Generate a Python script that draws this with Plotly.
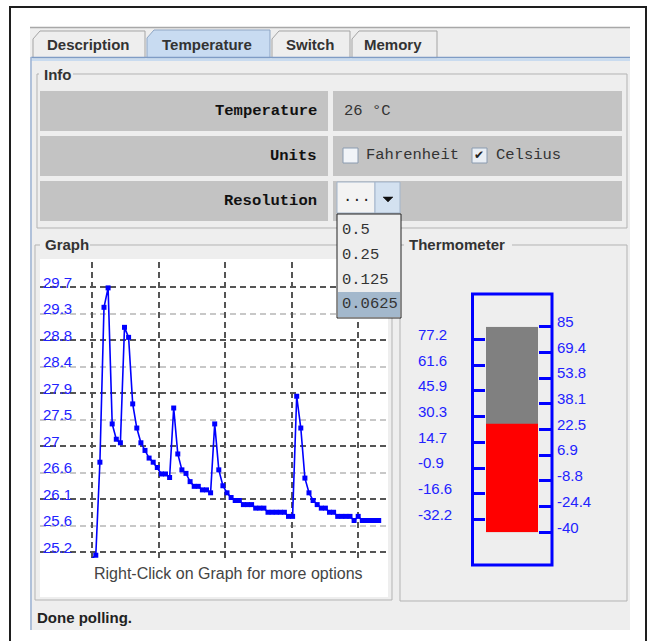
import plotly.graph_objects as go

W, H = 650, 641

# ---------------- data ----------------
sample_idx = list(range(71))
temps = [25.09, 25.15, 26.73, 29.36, 29.69, 27.38, 27.12, 27.06, 29.02, 28.85,
         27.72, 27.31, 27.06, 26.93, 26.80, 26.73, 26.64, 26.53, 26.53, 26.47,
         27.65, 26.87, 26.60, 26.54, 26.40, 26.32, 26.32, 26.26, 26.26, 26.21,
         27.38, 26.60, 26.33, 26.21, 26.13, 26.08, 26.08, 26.01, 26.01, 26.01,
         25.95, 25.95, 25.95, 25.88, 25.88, 25.88, 25.88, 25.88, 25.81, 25.81,
         27.85, 27.31, 26.46, 26.21, 26.08, 26.01, 25.95, 25.95, 25.88, 25.88,
         25.81, 25.81, 25.81, 25.81, 25.74, 25.81, 25.74, 25.74, 25.74, 25.74, 25.74]
graph_min = 25.2
graph_step = 0.45
graph_labels = ["25.2", "25.6", "26.1", "26.6", "27", "27.5", "27.9",
                "28.4", "28.8", "29.3", "29.7"]

therm_min, therm_max = -40, 85
current_temp = 26
therm_right_labels = ["-40", "-24.4", "-8.8", "6.9", "22.5", "38.1", "53.8", "69.4", "85"]
therm_left_labels = ["-32.2", "-16.6", "-0.9", "14.7", "30.3", "45.9", "61.6", "77.2"]

resolutions = ["0.5", "0.25", "0.125", "0.0625"]
tabs = ["Description", "Temperature", "Switch", "Memory"]

# ---------------- helpers ----------------
BLUE = "#0000ff"
LBLUE = "#2222ff"
BG = "#eeeeee"
SANS = "Liberation Sans"
MONO = "Liberation Mono"


def X(px):
    return px / W


def Y(py):
    return 1 - py / H


shapes = []
annotations = []


def rect(x0, y0, x1, y1, fill=None, line=None, lw=1, layer="below"):
    shapes.append(dict(type="rect", xref="paper", yref="paper",
                       x0=X(x0), x1=X(x1), y0=Y(y1), y1=Y(y0),
                       fillcolor=fill if fill else "rgba(0,0,0,0)",
                       line=dict(color=line if line else "rgba(0,0,0,0)",
                                 width=lw if line else 0),
                       layer=layer))


def hline(x0, x1, y, color, lw=1, layer="below"):
    shapes.append(dict(type="line", xref="paper", yref="paper",
                       x0=X(x0), x1=X(x1), y0=Y(y), y1=Y(y),
                       line=dict(color=color, width=lw), layer=layer))


def vline(x, y0, y1, color, lw=1, layer="below"):
    shapes.append(dict(type="line", xref="paper", yref="paper",
                       x0=X(x), x1=X(x), y0=Y(y0), y1=Y(y1),
                       line=dict(color=color, width=lw), layer=layer))


def path(pts, fill, line, lw=1, layer="below"):
    d = "M " + " L ".join(f"{X(a):.5f},{Y(b):.5f}" for a, b in pts) + " Z"
    shapes.append(dict(type="path", xref="paper", yref="paper", path=d,
                       fillcolor=fill, line=dict(color=line, width=lw), layer=layer))


def text(x, y, s, size=15, color="#333333", family=SANS, bold=False, xanchor="left"):
    annotations.append(dict(xref="paper", yref="paper", x=X(x), y=Y(y),
                            text=f"<b>{s}</b>" if bold else s, showarrow=False,
                            xanchor=xanchor, yanchor="middle",
                            font=dict(size=size, color=color, family=family)))


# ---------------- chrome ----------------
rect(10, 7, 646, 700, fill="white", line="#1e1e1e", lw=2)
rect(30, 27, 630, 630, fill=BG)
hline(30, 630, 27.5, "#a8a8a8", 1.5)

# tabs
tab_geo = [(33, 145, 31), (147, 270, 30), (272, 350, 31), (352, 437, 31)]
tab_text_x = [88, 206.5, 310, 393]
for i, (a, b, top) in enumerate(tab_geo):
    sel = tabs[i] == "Temperature"
    path([(a, 58), (a, top + 8), (a + 7, top), (b, top), (b, 58)],
         fill="#c8dbf1" if sel else BG, line="#8fa6c4" if sel else "#a4a4a4")
    text(tab_text_x[i], 44.5, tabs[i], 15, "#333333", SANS, True, "center")

hline(31, 630, 57.5, "#7f9cc5", 1.5)
rect(31, 58.3, 630, 61, fill="#c9dbef")
vline(31, 57, 630, "#9bb2d3", 1.5)

# Info group
rect(37, 74, 627, 228, line="#b3b3b3")
rect(39, 66, 73, 82, fill=BG)
text(42, 74, "Info", 15, "#333333", SANS, True)

row_names = ["Temperature", "Units", "Resolution"]
rows = [(91, 131), (136, 176), (181, 221)]
for (t, b), name in zip(rows, row_names):
    rect(40, t, 328, b, fill="#c3c3c3")
    rect(333, t, 622, b, fill="#c3c3c3")
    text(319, (t + b) / 2, name, 15.5, "#111111", MONO, True, "right")

text(342, 111, f"{current_temp} °C", 15.5, "#333333", MONO)
rect(343, 148, 358, 163, fill="#f1f4f8", line="#8a9bb0")
text(364, 155, "Fahrenheit", 15.5, "#333333", MONO)
rect(472, 148, 487, 163, fill="#e9eef4", line="#8a9bb0")
text(479.5, 155.5, "✔", 12, "#222222", "DejaVu Sans", False, "center")
text(494, 155, "Celsius", 15.5, "#333333", MONO)

# combobox
rect(337, 182, 375, 213, fill="#f3f3f3", line="#a3b5cb")
rect(375, 182, 400, 213, fill="#d3e1f0", line="#a3b5cb")
path([(383, 197), (393, 197), (388, 202)], fill="#111111", line="#111111", lw=0.5)
text(341, 197, "...", 15.5, "#222222", MONO)

# Graph group
rect(35, 245, 392, 600, line="#b3b3b3")
rect(40, 259, 388, 597, fill="white")
rect(40, 236, 90, 254, fill=BG)
text(43, 244.5, "Graph", 15, "#333333", SANS, True)
text(228.5, 573, "Right-Click on Graph for more options", 16, "#444444", SANS,
     False, "center")

# Thermometer group
rect(400, 245, 627, 601, line="#b3b3b3")
rect(404, 236, 512, 254, fill=BG)
text(407, 244.5, "Thermometer", 15, "#333333", SANS, True)
rect(472.5, 294, 552, 565, line=BLUE, lw=3)

# status
text(35, 617, "Done polling.", 15, "#222222", SANS, True)

# dropdown list (on top)
rect(337, 214, 401, 318, fill=BG, line="#222222", lw=1, layer="above")
rect(338, 292, 400, 317, fill="#a3b8cc", layer="above")
for lab, yy in zip(resolutions, [230, 255, 279.5, 304]):
    text(340, yy, lab, 15.5, "#333333", MONO)

# ---------------- traces ----------------
fig = go.Figure()
fig.add_trace(go.Scatter(x=sample_idx, y=temps, mode="lines+markers",
                         line=dict(color=BLUE, width=1.6),
                         marker=dict(symbol="square", size=5, color=BLUE),
                         cliponaxis=False, hoverinfo="skip",
                         xaxis="x", yaxis="y"))
fig.add_trace(go.Scatter(x=sample_idx, y=temps, mode="lines", opacity=0,
                         hoverinfo="skip", xaxis="x", yaxis="y2"))

fig.add_trace(go.Bar(x=[0], y=[therm_max - therm_min], base=[therm_min], width=1,
                     marker=dict(color="#808080", line=dict(width=0)),
                     xaxis="x2", yaxis="y3", hoverinfo="skip"))
fig.add_trace(go.Bar(x=[0], y=[current_temp - therm_min], base=[therm_min], width=1,
                     marker=dict(color="#ff0000", line=dict(width=0)),
                     xaxis="x2", yaxis="y3", hoverinfo="skip"))
fig.add_trace(go.Scatter(x=[0], y=[current_temp], opacity=0, mode="markers",
                         xaxis="x2", yaxis="y4", hoverinfo="skip"))
fig.add_trace(go.Scatter(x=[0], y=[current_temp], opacity=0, mode="markers",
                         xaxis="x2", yaxis="y5", hoverinfo="skip"))


# graph axes geometry
def val_at(py):
    return graph_min + (552.3 - py) / 26.5 * graph_step


def idx_at(px):
    return (px - 91.7) / 4.1


g_ticks = [graph_min + graph_step * k for k in range(len(graph_labels))]
yr = [val_at(558), val_at(262)]
left_ticks = [therm_min + 7.8125 + 15.625 * k for k in range(8)]
right_ticks = [therm_min + 15.625 * k for k in range(9)]

common = dict(showline=False, zeroline=False, automargin=False, fixedrange=True)

layout = dict(
    width=W, height=H, autosize=False,
    margin=dict(l=0, r=0, t=0, b=0, pad=0),
    paper_bgcolor="white", plot_bgcolor="rgba(0,0,0,0)",
    showlegend=False, barmode="overlay", hovermode=False,
    shapes=shapes, annotations=annotations,
    xaxis=dict(domain=[X(40), X(388)], range=[idx_at(40), idx_at(388)],
               showticklabels=False, ticks="", showgrid=True,
               gridcolor="#555555", gridwidth=2, griddash="6px,4px",
               tick0=0.15, dtick=16.2, anchor="y", **common),
    yaxis=dict(domain=[Y(558), Y(262)], range=yr, anchor="x",
               tickvals=g_ticks, ticktext=graph_labels, ticks="",
               ticklabelposition="inside", ticklabelshift=-5, ticklabelstandoff=0,
               showgrid=False,
               tickfont=dict(family=SANS, size=15, color=LBLUE), **common),
    yaxis2=dict(overlaying="y", anchor="x", range=yr, side="left",
                showticklabels=False, ticks="", showgrid=True,
                tick0=graph_min, dtick=2 * graph_step,
                gridcolor="#555555", gridwidth=2, griddash="6px,4px",
                minor=dict(tick0=graph_min, dtick=graph_step, showgrid=True,
                           gridcolor="#c8c8c8", gridwidth=2, griddash="6px,4px"),
                **common),
    xaxis2=dict(domain=[X(486), X(538)], range=[-0.5, 0.5], visible=False,
                anchor="y3", fixedrange=True),
    yaxis3=dict(domain=[Y(532.3), Y(326.7)], range=[therm_min, therm_max],
                anchor="x2", side="right",
                tickvals=right_ticks, ticktext=therm_right_labels,
                ticks="outside", ticklen=14, tickwidth=3, tickcolor=BLUE,
                ticklabelposition="outside", ticklabelshift=-5, ticklabelstandoff=1,
                tickfont=dict(family=SANS, size=15, color=LBLUE),
                showgrid=False, **common),
    yaxis4=dict(overlaying="y3", anchor="x2", side="left",
                range=[therm_min, therm_max], tickvals=left_ticks,
                showticklabels=False, ticks="outside", ticklen=14, tickwidth=3,
                tickcolor=BLUE, showgrid=False, **common),
    yaxis5=dict(overlaying="y3", anchor="free", position=X(417), side="right",
                range=[therm_min, therm_max], tickvals=left_ticks,
                ticktext=therm_left_labels, ticks="",
                ticklabelposition="outside", ticklabelshift=-5,
                tickfont=dict(family=SANS, size=15, color=LBLUE),
                showgrid=False, **common),
)
fig.update_layout(layout)
fig.write_html("out.html", config={"displayModeBar": False},
               post_script="document.body.style.margin='0px';")
